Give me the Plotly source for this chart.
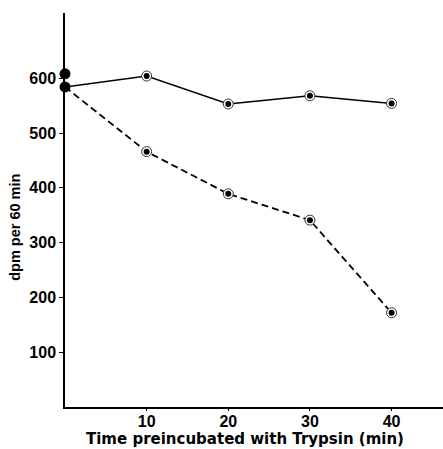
import plotly.graph_objects as go

# Data
time_min = [0, 10, 20, 30, 40]
control_dpm = [584, 604, 553, 568, 554]
trypsin_dpm = [584, 466, 389, 341, 172]
start_time = [0, 0]
start_dpm = [608, 584]

x_ticks = [10, 20, 30, 40]
y_ticks = [100, 200, 300, 400, 500, 600]

FONT = "Liberation Sans"

fig = go.Figure()

# lines
fig.add_trace(go.Scatter(x=time_min, y=control_dpm, mode="lines", cliponaxis=False,
                         line=dict(color="black", width=1.5), hoverinfo="skip"))
fig.add_trace(go.Scatter(x=time_min, y=trypsin_dpm, mode="lines", cliponaxis=False,
                         line=dict(color="black", width=1.8, dash="7px,4px"), hoverinfo="skip"))

# bullseye markers
for ys in (control_dpm, trypsin_dpm):
    fig.add_trace(go.Scatter(x=time_min[1:], y=ys[1:], mode="markers", cliponaxis=False,
                             marker=dict(size=10, color="white", line=dict(color="#333", width=1))))
    fig.add_trace(go.Scatter(x=time_min[1:], y=ys[1:], mode="markers", cliponaxis=False,
                             marker=dict(size=6, color="black", line=dict(width=0))))

# solid starting points at time 0
fig.add_trace(go.Scatter(x=start_time, y=start_dpm, mode="markers", cliponaxis=False,
                         marker=dict(size=11, color="black", line=dict(width=0))))

fig.update_layout(
    width=443, height=449,
    margin=dict(l=65, r=0, t=13, b=42),
    paper_bgcolor="white", plot_bgcolor="white",
    showlegend=False,
    font=dict(family=FONT, color="black"),
    annotations=[
        dict(text="<b>Time preincubated with Trypsin (min)</b>", xref="paper", yref="paper",
             x=0.476, y=-0.081, xanchor="center", yanchor="middle", showarrow=False,
             font=dict(family="DejaVu Sans", size=15, color="black")),
        dict(text="<b>dpm per 60 min</b>", xref="paper", yref="paper",
             x=-0.132, y=0.455, xanchor="center", yanchor="middle", showarrow=False,
             textangle=-90, font=dict(family=FONT, size=14.5, color="black")),
    ],
)
fig.update_xaxes(
    range=[0, 46.3], tickvals=x_ticks, ticktext=[str(v) for v in x_ticks],
    showline=True, linecolor="black", linewidth=1.5,
    ticks="outside", ticklen=2, tickcolor="black", ticklabelstandoff=-3,
    showgrid=False, zeroline=False, automargin=False,
    tickfont=dict(family=FONT, size=16, color="black", weight="bold"),
)
fig.update_yaxes(
    range=[0, 719], tickvals=y_ticks, ticktext=[str(v) for v in y_ticks],
    showline=True, linecolor="black", linewidth=1.5,
    ticks="outside", ticklen=4, tickcolor="black",
    showgrid=False, zeroline=False, automargin=False,
    tickfont=dict(family=FONT, size=16, color="black", weight="bold"),
)

fig.write_html(
    "out.html",
    config={"displayModeBar": False},
    post_script="document.body.style.margin='0';document.body.style.overflow='hidden';",
)
